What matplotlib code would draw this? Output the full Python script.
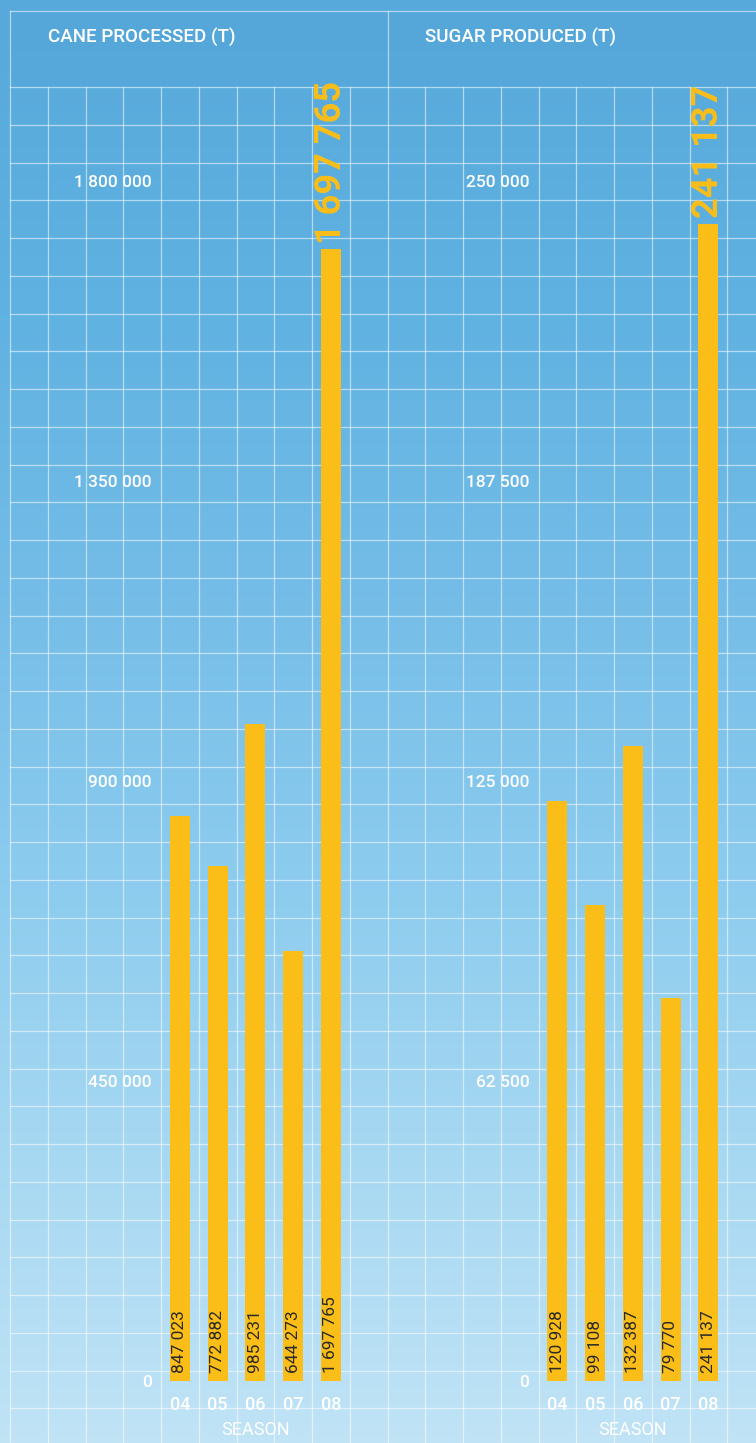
#!/usr/bin/env python3
"""Cane processed / sugar produced per season, two-panel bar chart on a sky grid."""

import matplotlib

matplotlib.use("Agg")
import matplotlib.pyplot as plt
import numpy as np
from matplotlib.colors import LinearSegmentedColormap
from matplotlib.patches import Rectangle

seasons = ["04", "05", "06", "07", "08"]
cane_processed = [847023, 772882, 985231, 644273, 1697765]
sugar_produced = [120928, 99108, 132387, 79770, 241137]
cane_ticks = [0, 450000, 900000, 1350000, 1800000]
sugar_ticks = [0, 62500, 125000, 187500, 250000]
panel_titles = ["CANE PROCESSED (T)", "SUGAR PRODUCED (T)"]

W, H, DPI = 756, 1443, 100
CELL = 37.75      # grid cell size in px
X0 = 10           # left edge of grid
Y_HEAD = 11       # top of header band
Y_GRID = 87       # top of the plotting grid
Y_ZERO = 1381     # pixel row of value 0
Y_XLABEL = 1430   # pixel row of "SEASON"
TICK_PX = 300     # px between y ticks
BAR_COLOR = "#FBBE18"

plt.rcParams["font.family"] = ["Roboto", "DejaVu Sans"]


def fmt(v):
    return f"{v:,}".replace(",", " ")


fig = plt.figure(figsize=(W / DPI, H / DPI), dpi=DPI)

# background: gradient + grid
bg = fig.add_axes([0, 0, 1, 1])
bg.set_xlim(0, W)
bg.set_ylim(H, 0)
bg.axis("off")
sky = LinearSegmentedColormap.from_list(
    "sky", ["#58a9db", "#5eb1e1", "#73bce7", "#8bcbee", "#a7d8f2", "#c0e3f6"]
)
bg.imshow(np.linspace(0, 1, 256)[:, None], extent=(0, W, H, 0), cmap=sky, aspect="auto")
bg.add_patch(Rectangle((X0, Y_HEAD), W - X0, Y_GRID - Y_HEAD, color="#2f7fbf", alpha=0.06, lw=0))

grid_kw = dict(color="white", alpha=0.55, lw=0.9)
for k in range(20):
    bg.plot([X0 + k * CELL] * 2, [Y_GRID, H], **grid_kw)
k = 0
while Y_GRID + k * CELL < H:
    bg.plot([X0, W], [Y_GRID + k * CELL] * 2, **grid_kw)
    k += 1
bg.plot([X0, W], [Y_HEAD, Y_HEAD], **grid_kw)
for xv in (X0, X0 + 10 * CELL):
    bg.plot([xv, xv], [Y_HEAD, Y_GRID], **grid_kw)

# data panels
panels = [
    (cane_processed, cane_ticks, X0, 10 * CELL),
    (sugar_produced, sugar_ticks, X0 + 10 * CELL, W - X0 - 10 * CELL),
]
for i, (values, ticks, px_left, px_width) in enumerate(panels):
    ax = fig.add_axes([px_left / W, 0, px_width / W, (H - Y_GRID) / H])
    ax.patch.set_alpha(0)
    vpp = (ticks[1] - ticks[0]) / TICK_PX
    ax.set_ylim(-(H - Y_ZERO) * vpp, (Y_ZERO - Y_GRID) * vpp)
    ax.set_xlim(-4.5, -4.5 + px_width / CELL)

    x = np.arange(len(seasons))
    ax.bar(x, values, width=0.53, color=BAR_COLOR, zorder=3)

    for xi, v in zip(x, values):
        ax.annotate(fmt(v), (xi, 0), xytext=(0, 6), textcoords="offset points",
                    rotation=90, ha="center", va="bottom", fontsize=12.5,
                    color="#2a2a2a", zorder=4)
    ax.annotate(fmt(values[-1]), (x[-1], values[-1]), xytext=(0, 4),
                textcoords="offset points", rotation=90, ha="center", va="bottom",
                fontsize=26, fontweight="bold", color=BAR_COLOR)

    for s in ("top", "right"):
        ax.spines[s].set_visible(False)
    ax.spines["left"].set_position(("data", -0.74))
    ax.spines["bottom"].set_position(("data", 0))
    ax.spines["left"].set_visible(False)
    ax.spines["bottom"].set_visible(False)

    ax.set_yticks(ticks)
    ax.set_yticklabels([fmt(t) for t in ticks], fontweight="medium")
    ax.tick_params(axis="y", length=0, pad=0, labelsize=12.5, labelcolor="white")
    ax.set_xticks(x)
    ax.set_xticklabels(seasons, fontweight="medium")
    ax.tick_params(axis="x", length=0, pad=11, labelsize=13, labelcolor="white")
    ax.set_xlabel("SEASON", fontsize=13, color="white")
    ax.xaxis.set_label_coords(x.mean(), -(Y_XLABEL - Y_ZERO) * vpp, transform=ax.transData)
    ax.xaxis.label.set_va("center")

    fig.text((px_left + 38) / W, 1 - 37 / H, panel_titles[i], fontsize=13.5,
             fontweight="medium", color="white", ha="left", va="center")

fig.savefig("out.png", dpi=DPI)
